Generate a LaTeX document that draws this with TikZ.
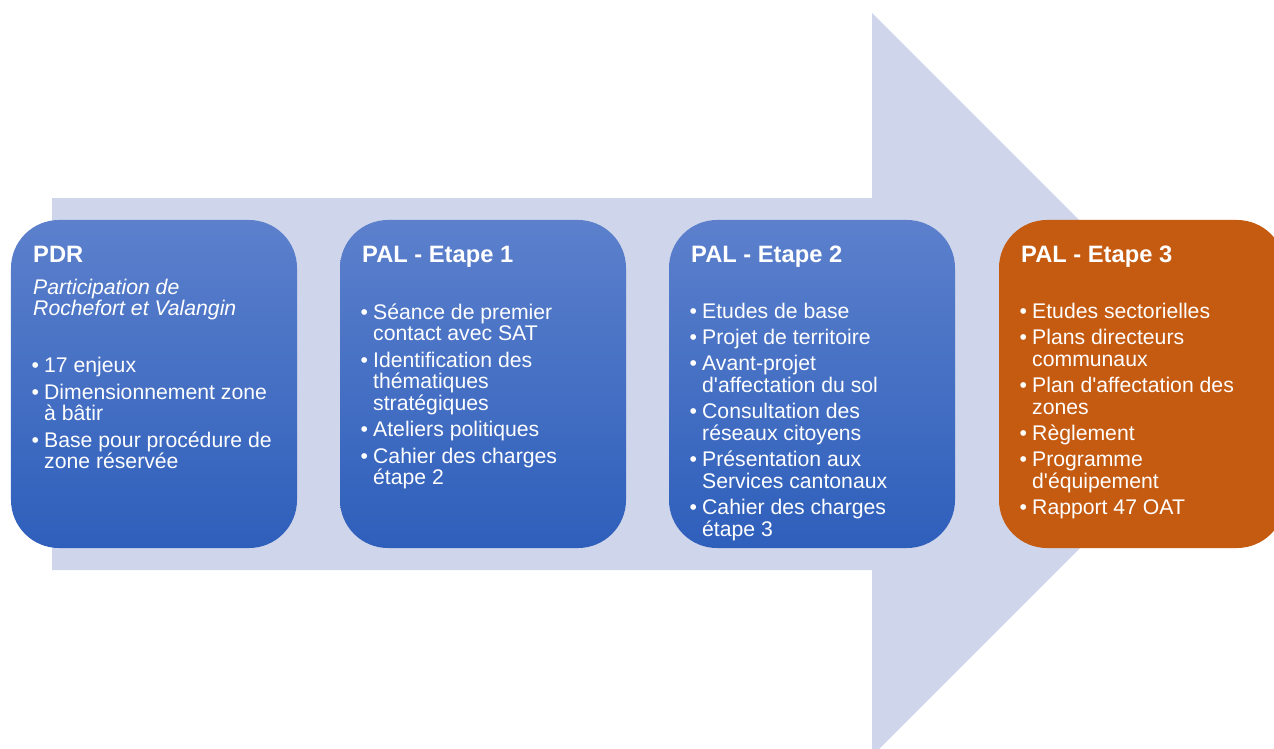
\documentclass[tikz,border=0pt]{standalone}
\usepackage{fontspec}
\setmainfont{Liberation Sans}
\definecolor{arrowc}{HTML}{CFD5EA}
\definecolor{btop}{HTML}{5C80CC}
\definecolor{bbot}{HTML}{2E5FBB}
\definecolor{orng}{HTML}{C55A11}
\newcommand{\fsbody}{\fontsize{21.2bp}{21.7bp}\selectfont}
\newcommand{\itm}[1]{\makebox[11bp][l]{\hspace{-1.5bp}\textbullet}#1}
\newcommand{\cnt}[1]{\hspace*{11bp}#1}
\newcommand{\gp}{\\[4.6bp]}
\newcommand{\q}{\textquotesingle}
\tikzset{
  stagebox/.style={rounded corners=48bp, minimum width=286bp, minimum height=328bp, inner sep=0pt, draw=none},
  bluebox/.style={stagebox, top color=btop, bottom color=bbot},
  orangebox/.style={stagebox, fill=orng},
  ttl/.style={anchor=base west, inner sep=0pt, text=white, font=\fontsize{23.7bp}{26bp}\selectfont\bfseries},
  body/.style={anchor=base west, inner sep=0pt, text=white}
}
\begin{document}
\begin{tikzpicture}[x=1bp,y=-1bp]
\useasboundingbox (0,0) rectangle (1274,749);
\clip (0,0) rectangle (1274,749);
\fill[arrowc] (52,198) -- (872,198) -- (872,13) -- (1243.5,384.5) -- (872,756) -- (872,570) -- (52,570) -- cycle;
\node[bluebox] (b1) at (154,384) {};
\node[bluebox] (b2) at (483,384) {};
\node[bluebox] (b3) at (812,384) {};
\node[orangebox] (b4) at (1142,384) {};
\node[ttl] (t1) at (33,262) {PDR};
\node[ttl] (t2) at (362,262) {PAL - Etape 1};
\node[ttl] (t3) at (691,262) {PAL - Etape 2};
\node[ttl] (t4) at (1021,262) {PAL - Etape 3};
\node[body] (l1) at (33,294) {\parbox[t]{260bp}{\fsbody
\textit{Participation de}\\
\textit{Rochefort et Valangin}\\[35.3bp]
\itm{17 enjeux}\gp
\itm{Dimensionnement zone}\\
\cnt{à bâtir}\gp
\itm{Base pour procédure de}\\
\cnt{zone réservée}}};
\node[body] (l2) at (362,319) {\parbox[t]{260bp}{\fsbody
\itm{Séance de premier}\\
\cnt{contact avec SAT}\gp
\itm{Identification des}\\
\cnt{thématiques}\\
\cnt{stratégiques}\gp
\itm{Ateliers politiques}\gp
\itm{Cahier des charges}\\
\cnt{étape 2}}};
\node[body] (l3) at (691,318) {\parbox[t]{260bp}{\fsbody
\itm{Etudes de base}\gp
\itm{Projet de territoire}\gp
\itm{Avant-projet}\\
\cnt{d\q affectation du sol}\gp
\itm{Consultation des}\\
\cnt{réseaux citoyens}\gp
\itm{Présentation aux}\\
\cnt{Services cantonaux}\gp
\itm{Cahier des charges}\\
\cnt{étape 3}}};
\node[body] (l4) at (1021,318) {\parbox[t]{260bp}{\fsbody
\itm{Etudes sectorielles}\gp
\itm{Plans directeurs}\\
\cnt{communaux}\gp
\itm{Plan d\q affectation des}\\
\cnt{zones}\gp
\itm{Règlement}\gp
\itm{Programme}\\
\cnt{d\q équipement}\gp
\itm{Rapport 47 OAT}}};
\end{tikzpicture}
\end{document}
